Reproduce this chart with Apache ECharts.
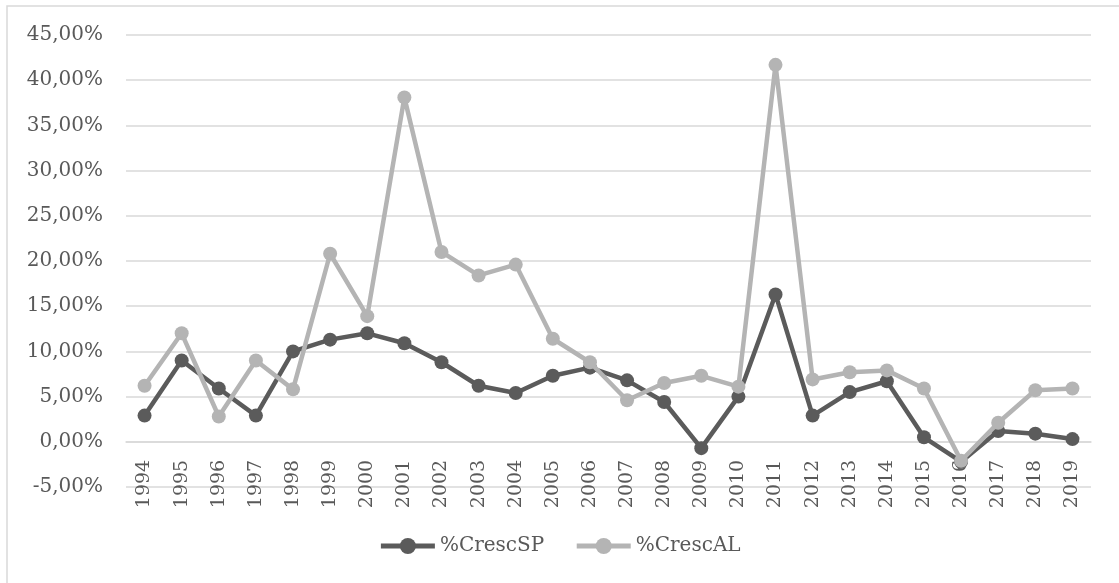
<!DOCTYPE html>
<html>
<head>
<meta charset="utf-8">
<script src="https://cdn.jsdelivr.net/npm/echarts@6/dist/echarts.min.js"></script>
<style>
  html, body { margin: 0; padding: 0; background: #ffffff; }
  #chart { width: 1119px; height: 583px; }
</style>
</head>
<body>
<div id="chart"></div>
<script>
// Annual growth rates (%), 1994–2019
const years = ['1994','1995','1996','1997','1998','1999','2000','2001','2002','2003','2004','2005','2006',
               '2007','2008','2009','2010','2011','2012','2013','2014','2015','2016','2017','2018','2019'];
const crescSP = [2.9, 9.0, 5.9, 2.9, 10.0, 11.3, 12.0, 10.9, 8.8, 6.2, 5.4, 7.3, 8.2,
                 6.8, 4.4, -0.7, 5.0, 16.3, 2.9, 5.5, 6.7, 0.5, -2.2, 1.2, 0.9, 0.3];
const crescAL = [6.2, 12.0, 2.8, 9.0, 5.8, 20.8, 13.9, 38.1, 21.0, 18.4, 19.6, 11.4, 8.8,
                 4.6, 6.5, 7.3, 6.1, 41.7, 6.9, 7.7, 7.9, 5.9, -2.1, 2.1, 5.7, 5.9];
const seriesNames = ['%CrescSP', '%CrescAL'];

const FONT = 'DejaVu Serif';
const TEXT = '#595959';
const GRID_LINE = '#d9d9d9';
const DARK = '#5b5b5b';
const LIGHT = '#b4b4b4';

// plot area geometry (px)
const GRID_TOP = 35, GRID_BOTTOM = 96, CHART_H = 583;
const Y_MIN = -5, Y_MAX = 45;
// shift the category axis up so it sits on the 0% line
const zeroOffset = -((0 - Y_MIN) / (Y_MAX - Y_MIN)) * (CHART_H - GRID_TOP - GRID_BOTTOM);

const chart = echarts.init(document.getElementById('chart'), null, { renderer: 'canvas' });

function pct(v) {
  return v.toFixed(2).replace('.', ',') + '%';
}

chart.setOption({
  animation: false,
  backgroundColor: '#ffffff',
  graphic: [{
    type: 'rect',
    shape: { x: 7, y: 6, width: 1200, height: 700 },
    style: { fill: 'none', stroke: GRID_LINE, lineWidth: 1.5 },
    silent: true
  }],
  grid: { left: 126, right: 28, top: GRID_TOP, bottom: GRID_BOTTOM, containLabel: false },
  legend: {
    bottom: 22,
    left: 'center',
    itemWidth: 54,
    itemHeight: 20,
    itemGap: 30,
    lineStyle: { width: 5 },
    textStyle: { fontFamily: FONT, fontSize: 20, color: TEXT },
    data: seriesNames
  },
  xAxis: {
    type: 'category',
    data: years,
    boundaryGap: true,
    offset: zeroOffset,
    axisLine: { onZero: false, lineStyle: { color: GRID_LINE, width: 1.5 } },
    axisTick: { show: false },
    axisLabel: {
      rotate: 90,
      interval: 0,
      margin: 18,
      fontFamily: FONT,
      fontSize: 19,
      color: TEXT
    },
    splitLine: { show: false }
  },
  yAxis: {
    type: 'value',
    min: Y_MIN,
    max: Y_MAX,
    interval: 5,
    axisLine: { show: false },
    axisTick: { show: false },
    axisLabel: {
      margin: 23,
      fontFamily: FONT,
      fontSize: 20,
      color: TEXT,
      formatter: pct
    },
    splitLine: { lineStyle: { color: GRID_LINE, width: 1.5 } }
  },
  series: [
    {
      name: seriesNames[0],
      type: 'line',
      data: crescSP,
      symbol: 'circle',
      symbolSize: 14,
      lineStyle: { color: DARK, width: 4.5 },
      itemStyle: { color: DARK },
      z: 3
    },
    {
      name: seriesNames[1],
      type: 'line',
      data: crescAL,
      symbol: 'circle',
      symbolSize: 14,
      lineStyle: { color: LIGHT, width: 4.5 },
      itemStyle: { color: LIGHT },
      z: 4
    }
  ]
});
</script>
</body>
</html>
